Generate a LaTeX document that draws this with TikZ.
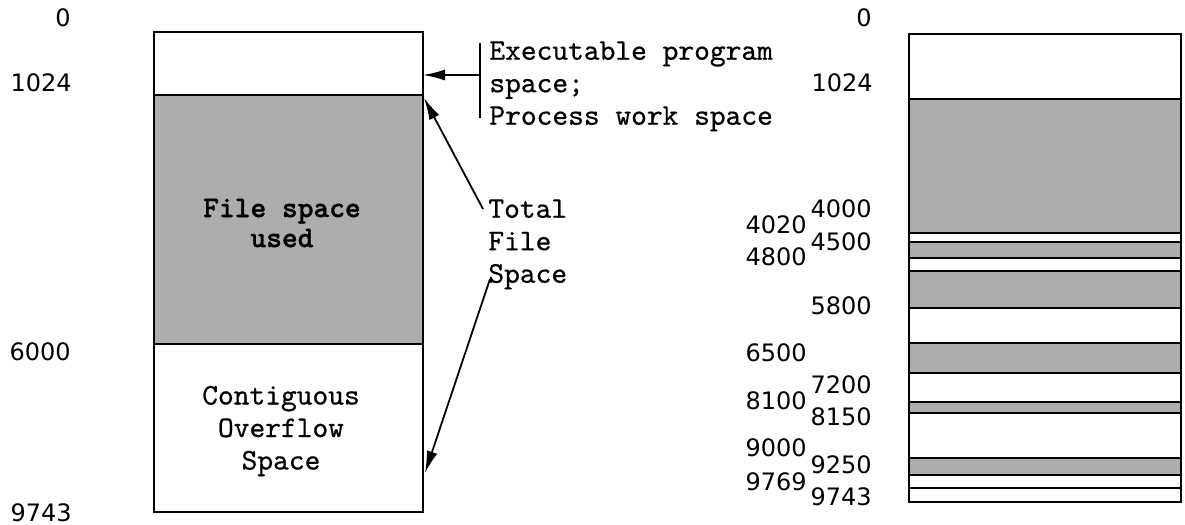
\documentclass[tikz,border=0pt]{standalone}
\usepackage{fontspec}
\newfontfamily\numfont{DejaVu Sans}
\newfontfamily\twfont{lmmono10-regular.otf}[FakeBold=0.6, BoldFont=lmmonolt10-bold.otf, BoldFeatures={FakeBold=1.2}]
\usetikzlibrary{arrows.meta}
\tikzset{
  num/.style={font=\numfont\fontsize{12}{14}\selectfont, inner sep=0pt, anchor=east},
  tw/.style={font=\twfont\fontsize{15}{16.25}\selectfont, inner sep=0pt},
  twbold/.style={font=\twfont\bfseries\fontsize{15}{15}\selectfont, inner sep=0pt},
  used/.style={fill=black!32},
  boundary/.style={line width=1.4pt},
  frame/.style={line width=1.1pt},
  pointer/.style={line width=0.9pt, -{Latex[length=11pt,width=5.5pt]}},
}
\begin{document}
\begin{tikzpicture}[x=0.5pt,y=-0.5pt]
\useasboundingbox (0,0) rectangle (1185,525);

% ---- single-partition layout ----
\fill[used] (154,95) rectangle (423,344);
\draw[boundary] (154,95) -- (423,95);
\draw[boundary] (154,344) -- (423,344);
\draw[frame] (154,32) rectangle (423,512);
\coordinate (exectip) at (423,75);
\coordinate (filetop) at (424,98);
\coordinate (overflowtip) at (425,473);

\node[twbold, align=center] (fileused) at (282,223) {File space\\used};
\node[tw, align=center] (overflow) at (281,431) {Contiguous\\Overflow\\Space};

\node[num] (l0) at (71,18) {0};
\node[num] (l1024) at (72,83) {1024};
\node[num] (l6000) at (71,352) {6000};
\node[num] (l9743) at (72,513) {9743};

% ---- annotations ----
\draw[line width=0.6pt] (480,43) -- (480,118);
\coordinate (bracket) at (480,75);
\node[tw, align=left, anchor=north west] (exec) at (489,41) {Executable program\\space;\\Process work space};
\draw[pointer] (bracket) -- (exectip);

\node[tw, align=left, anchor=north west] (total) at (488,199) {Total\\File\\Space};
\coordinate (totalstart) at (483,209);
\coordinate (spacestart) at (490,279);
\draw[pointer] (totalstart) -- (filetop);
\draw[pointer] (spacestart) -- (overflowtip);

% ---- fragmented layout ----
\foreach \a/\b in {99/233, 242/258, 271/308, 343/373, 402/413, 458/475}
  \fill[used] (909,\a) rectangle (1181,\b);
\foreach \y in {99, 233, 242, 258, 271, 308, 343, 373, 402, 413, 458, 475, 488}
  \draw[boundary] (909,\y) -- (1181,\y);
\draw[frame] (909,34) rectangle (1181,502);

\node[num] (r0) at (872,18) {0};
\node[num] (r1024) at (873,83) {1024};
\node[num] (r4000) at (872,209) {4000};
\node[num] (r4500) at (872,242) {4500};
\node[num] (r5800) at (872,306) {5800};
\node[num] (r7200) at (872,385) {7200};
\node[num] (r8150) at (872,417) {8150};
\node[num] (r9250) at (872,465) {9250};
\node[num] (r9743) at (872,497) {9743};
\node[num] (r4020) at (807,225) {4020};
\node[num] (r4800) at (807,257) {4800};
\node[num] (r6500) at (807,353) {6500};
\node[num] (r8100) at (807,401) {8100};
\node[num] (r9000) at (807,448) {9000};
\node[num] (r9769) at (807,482) {9769};
\end{tikzpicture}
\end{document}
